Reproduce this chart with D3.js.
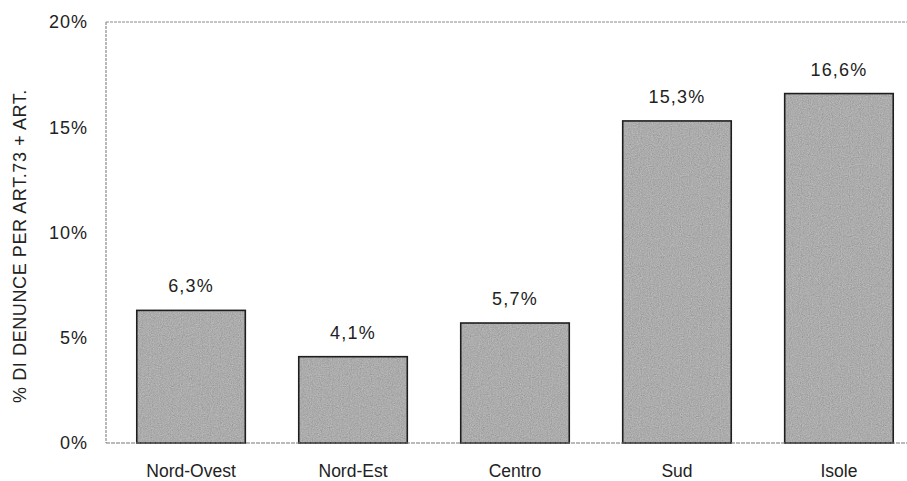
<!DOCTYPE html>
<html>
<head>
<meta charset="utf-8">
<script src="https://cdn.jsdelivr.net/npm/d3@7"></script>
<style>
  body { margin: 0; background: #fff; }
  svg { font-family: "Liberation Sans", Arial, sans-serif; }
</style>
</head>
<body>
<div id="bar_chart"></div>
<script>
var regions = ["Nord-Ovest", "Nord-Est", "Centro", "Sud", "Isole"];
var values = [6.3, 4.1, 5.7, 15.3, 16.6];
var yTicks = [0, 5, 10, 15, 20];
var yTitle = "% DI DENUNCE PER ART.73 + ART.";

var margin = { top: 22, right: 0, bottom: 38, left: 106 },
width = 907 - margin.left - margin.right,
height = 481 - margin.top - margin.bottom;

var root = d3.select("#bar_chart")
  .append("svg")
  .attr("width", 907)
  .attr("height", 481);

// grainy fill like the scanned original
var f = root.append("defs").append("filter").attr("id", "grain")
  .attr("x", 0).attr("y", 0).attr("width", 1).attr("height", 1);
f.append("feTurbulence").attr("type", "fractalNoise")
  .attr("baseFrequency", 0.9).attr("numOctaves", 2).attr("seed", 3).attr("result", "noise");
f.append("feColorMatrix").attr("in", "noise").attr("type", "matrix")
  .attr("values", "0.33 0.33 0.33 0 0  0.33 0.33 0.33 0 0  0.33 0.33 0.33 0 0  0 0 0 0 1")
  .attr("result", "gray");
f.append("feComposite").attr("in", "SourceGraphic").attr("in2", "gray")
  .attr("operator", "arithmetic").attr("k1", 0).attr("k2", 1).attr("k3", 0.45).attr("k4", -0.22)
  .attr("result", "mix");
f.append("feComposite").attr("in", "mix").attr("in2", "SourceGraphic").attr("operator", "in");

var svg = root.append("g")
  .attr("transform", "translate(" + margin.left + "," + margin.top + ")");

// bands run a little past the right edge, like the original picture
var x = d3.scaleBand()
  .domain(regions)
  .range([0, 818])
  .paddingInner(0.33)
  .paddingOuter(0.19);

var y = d3.scaleLinear()
  .domain([0, 20])
  .range([height, 0]);

var fmt = d => d.toFixed(1).replace(".", ",") + "%";

// frame: top and left border
svg.append("line")
  .attr("x1", 0).attr("x2", width)
  .attr("y1", 0).attr("y2", 0)
  .attr("stroke", "#8a8a8a").attr("stroke-width", 1.2)
  .attr("stroke-dasharray", "3,1");
svg.append("line")
  .attr("x1", 0).attr("x2", 0)
  .attr("y1", 0).attr("y2", height)
  .attr("stroke", "#8a8a8a").attr("stroke-width", 1.2)
  .attr("stroke-dasharray", "3,1");

svg.append("g")
  .selectAll("rect")
  .data(values)
  .join("rect")
  .attr("x", (d, i) => x(regions[i]))
  .attr("y", d => y(d))
  .attr("width", x.bandwidth())
  .attr("height", d => height - y(d))
  .attr("fill", "#ababab")
  .attr("filter", "url(#grain)");

svg.append("g")
  .selectAll("rect")
  .data(values)
  .join("rect")
  .attr("x", (d, i) => x(regions[i]))
  .attr("y", d => y(d))
  .attr("width", x.bandwidth())
  .attr("height", d => height - y(d))
  .attr("fill", "none")
  .attr("stroke", "#1e1e1e")
  .attr("stroke-width", 1.6);

// baseline
svg.append("line")
  .attr("x1", 0).attr("x2", width)
  .attr("y1", height).attr("y2", height)
  .attr("stroke", "#777").attr("stroke-width", 1.2)
  .attr("stroke-dasharray", "4,1");

// value labels
svg.append("g")
  .selectAll("text")
  .data(values)
  .join("text")
  .attr("x", (d, i) => x(regions[i]) + x.bandwidth() / 2)
  .attr("y", d => y(d) - 18)
  .attr("text-anchor", "middle")
  .attr("font-size", 18)
  .attr("letter-spacing", 1.2)
  .attr("fill", "#222")
  .text(fmt);

// y axis
var yAxis = g => g
  .call(d3.axisLeft(y).tickValues(yTicks).tickSize(0).tickPadding(18).tickFormat(d => d + "%"))
  .call(g => g.select(".domain").remove())
  .call(g => g.selectAll("text").attr("font-size", 18).attr("letter-spacing", 1)
    .attr("fill", "#222").attr("font-family", null));

svg.append("g").call(yAxis);

// x axis
var xAxis = g => g
  .attr("transform", "translate(0," + height + ")")
  .call(d3.axisBottom(x).tickSize(0).tickPadding(22))
  .call(g => g.select(".domain").remove())
  .call(g => g.selectAll("text").attr("font-size", 17.5)
    .attr("fill", "#222").attr("font-family", null));

svg.append("g").call(xAxis);

svg.append("text")
  .attr("transform", "translate(" + (-80) + "," + 224 + ") rotate(-90)")
  .attr("text-anchor", "middle")
  .attr("font-size", 18)
  .attr("letter-spacing", 0.6)
  .attr("fill", "#222")
  .text(yTitle);
</script>
</body>
</html>
